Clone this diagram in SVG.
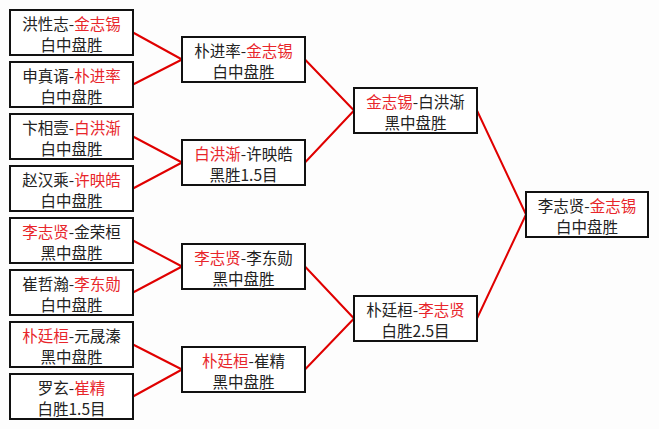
<svg xmlns="http://www.w3.org/2000/svg" width="659" height="429" viewBox="0 0 659 429">
<style>
.box{fill:#ffffff;stroke:#111111;stroke-width:2}
text{font-family:"Noto Sans CJK SC","Noto Sans",sans-serif;font-size:15.5px;fill:#222222;text-anchor:middle}
.w{fill:#e8262b}
.link{stroke:#e00000;stroke-width:2;fill:none}
</style>
<rect x="0" y="0" width="659" height="429" fill="#fdfdfd"/>
<g id="connectors">
<path class="link" d="M133,32.5 L182,59.5 M133,84.5 L182,59.5"/>
<path class="link" d="M133,136.5 L182,162.5 M133,188.5 L182,162.5"/>
<path class="link" d="M133,240.5 L182,266.5 M133,292.5 L182,266.5"/>
<path class="link" d="M133,344.5 L182,369.5 M133,396.5 L182,369.5"/>
<path class="link" d="M305,59.5 L354,110.5 M305,162.5 L354,110.5"/>
<path class="link" d="M305,266.5 L354,318.5 M305,369.5 L354,318.5"/>
<path class="link" d="M477,110.5 L526,214.5 M477,318.5 L526,214.5"/>
</g>
<g id="r1-1"><rect class="box" x="10" y="10" width="123" height="45"/><text x="71.5" y="29.5">洪性志-<tspan class="w">金志锡</tspan></text><text x="71.5" y="50.5">白中盘胜</text></g>
<g id="r1-2"><rect class="box" x="10" y="62" width="123" height="45"/><text x="71.5" y="81.5">申真谞-<tspan class="w">朴进率</tspan></text><text x="71.5" y="102.5">白中盘胜</text></g>
<g id="r1-3"><rect class="box" x="10" y="114" width="123" height="45"/><text x="71.5" y="133.5">卞相壹-<tspan class="w">白洪渐</tspan></text><text x="71.5" y="154.5">白中盘胜</text></g>
<g id="r1-4"><rect class="box" x="10" y="166" width="123" height="45"/><text x="71.5" y="185.5">赵汉乘-<tspan class="w">许映皓</tspan></text><text x="71.5" y="206.5">白中盘胜</text></g>
<g id="r1-5"><rect class="box" x="10" y="218" width="123" height="45"/><text x="71.5" y="237.5"><tspan class="w">李志贤</tspan>-金荣桓</text><text x="71.5" y="258.5">黑中盘胜</text></g>
<g id="r1-6"><rect class="box" x="10" y="270" width="123" height="45"/><text x="71.5" y="289.5">崔哲瀚-<tspan class="w">李东勋</tspan></text><text x="71.5" y="310.5">白中盘胜</text></g>
<g id="r1-7"><rect class="box" x="10" y="322" width="123" height="45"/><text x="71.5" y="341.5"><tspan class="w">朴廷桓</tspan>-元晟溱</text><text x="71.5" y="362.5">黑中盘胜</text></g>
<g id="r1-8"><rect class="box" x="10" y="374" width="123" height="45"/><text x="71.5" y="393.5">罗玄-<tspan class="w">崔精</tspan></text><text x="71.5" y="414.5">白胜1.5目</text></g>
<g id="r2-1"><rect class="box" x="182" y="37" width="123" height="45"/><text x="243.5" y="56.5">朴进率-<tspan class="w">金志锡</tspan></text><text x="243.5" y="77.5">白中盘胜</text></g>
<g id="r2-2"><rect class="box" x="182" y="140" width="123" height="45"/><text x="243.5" y="159.5"><tspan class="w">白洪渐</tspan>-许映皓</text><text x="243.5" y="180.5">黑胜1.5目</text></g>
<g id="r2-3"><rect class="box" x="182" y="244" width="123" height="45"/><text x="243.5" y="263.5"><tspan class="w">李志贤</tspan>-李东勋</text><text x="243.5" y="284.5">黑中盘胜</text></g>
<g id="r2-4"><rect class="box" x="182" y="347" width="123" height="45"/><text x="243.5" y="366.5"><tspan class="w">朴廷桓</tspan>-崔精</text><text x="243.5" y="387.5">黑中盘胜</text></g>
<g id="r3-1"><rect class="box" x="354" y="88" width="123" height="45"/><text x="415.5" y="107.5"><tspan class="w">金志锡</tspan>-白洪渐</text><text x="415.5" y="128.5">黑中盘胜</text></g>
<g id="r3-2"><rect class="box" x="354" y="296" width="123" height="45"/><text x="415.5" y="315.5">朴廷桓-<tspan class="w">李志贤</tspan></text><text x="415.5" y="336.5">白胜2.5目</text></g>
<g id="final"><rect class="box" x="526" y="192" width="122" height="45"/><text x="587" y="211.5">李志贤-<tspan class="w">金志锡</tspan></text><text x="587" y="232.5">白中盘胜</text></g>
</svg>
